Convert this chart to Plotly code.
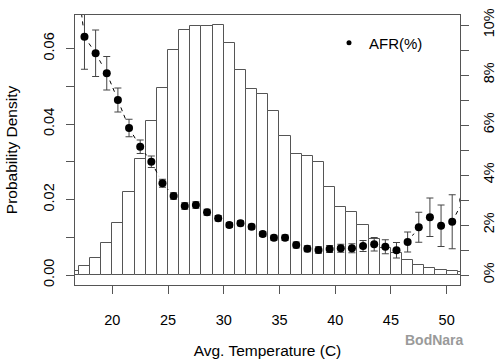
import math
import plotly.graph_objects as go

# ---- data ----
bin_left = list(range(16, 52))                      # histogram bins of width 1
density = [0.0011, 0.0024, 0.0044, 0.0085, 0.0137, 0.0221, 0.0307, 0.0408,
           0.0495, 0.0597, 0.0649, 0.0660, 0.0660, 0.0663, 0.0614, 0.0542,
           0.0493, 0.0480, 0.0435, 0.0368, 0.0320, 0.0315, 0.0299, 0.0232,
           0.0181, 0.0166, 0.0132, 0.0095, 0.0071, 0.0059, 0.0040, 0.0026,
           0.0019, 0.0014, 0.0011, 0.0007]
afr_x = [b + 0.5 for b in bin_left]
afr = [13.0, 9.53, 8.87, 8.07, 7.00, 5.88, 5.13, 4.53, 3.67, 3.16, 2.76, 2.80,
       2.51, 2.27, 2.00, 2.07, 1.93, 1.64, 1.49, 1.49, 1.20, 1.05, 1.00, 1.04,
       1.07, 1.07, 1.16, 1.23, 1.13, 0.99, 1.32, 1.91, 2.31, 1.97, 2.13, 3.0]
afr_err = [0, 1.30, 0.93, 0.67, 0.48, 0.35, 0.27, 0.23, 0.16, 0.13, 0.13, 0.13,
           0.12, 0.11, 0.10, 0.10, 0.10, 0.10, 0.10, 0.11, 0.12, 0.12, 0.13, 0.14,
           0.16, 0.18, 0.22, 0.27, 0.28, 0.31, 0.40, 0.60, 0.77, 0.83, 1.08, 0]

x_ticks = [20, 25, 30, 35, 40, 45, 50]
y_ticks = [0.00, 0.01, 0.02, 0.03, 0.04, 0.05, 0.06]
y_ticktext = ["0.00", "", "0.02", "", "0.04", "", "0.06"]
y2_ticks = list(range(0, 11))
y2_ticktext = ["0%", "", "2%", "", "4%", "", "6%", "", "8%", "", "10%"]

# ---- layout geometry ----
W, H = 500, 364
ML, MR, MT, MB = 75, 40, 15, 79
PW, PH = W - ML - MR, H - MT - MB
x_range = [16.65, 51.2]
y_range = [-0.00265, 0.0689]
y2_range = [-0.4, 10.4]

LINE = "#555555"
FONT = "Liberation Sans, Arial, sans-serif"

# R-style type="b" line: segments between points with a gap around each point
sx = PW / (x_range[1] - x_range[0])
sy = PH / (y2_range[1] - y2_range[0])
gap = 8.0
seg_x, seg_y = [], []
for i in range(len(afr_x) - 1):
    x1, y1, x2, y2 = afr_x[i], afr[i], afr_x[i + 1], afr[i + 1]
    d = math.hypot((x2 - x1) * sx, (y2 - y1) * sy)
    if d > 2 * gap:
        f = gap / d
        seg_x += [x1 + f * (x2 - x1), x2 - f * (x2 - x1), None]
        seg_y += [y1 + f * (y2 - y1), y2 - f * (y2 - y1), None]

fig = go.Figure()
fig.add_trace(go.Bar(
    x=[b + 0.5 for b in bin_left], y=density, width=1,
    marker=dict(color="white", line=dict(color=LINE, width=1)),
    showlegend=False, hoverinfo="skip", yaxis="y"))

fig.add_trace(go.Scatter(
    x=seg_x, y=seg_y, mode="lines", yaxis="y2",
    line=dict(color="black", width=1, dash="4px,4px"),
    showlegend=False, hoverinfo="skip"))

fig.add_trace(go.Scatter(
    x=afr_x, y=afr, mode="markers", yaxis="y2",
    marker=dict(color="black", size=8),
    error_y=dict(type="data", array=afr_err, visible=True,
                 color="#444444", thickness=1, width=3.5),
    showlegend=False))

fig.add_trace(go.Scatter(
    x=[None], y=[None], mode="markers", yaxis="y2", name="AFR(%)",
    marker=dict(color="black", size=5)))

fig.update_layout(
    width=W, height=H,
    margin=dict(l=ML, r=MR, t=MT, b=MB, pad=0, autoexpand=False),
    paper_bgcolor="white", plot_bgcolor="white",
    font=dict(family=FONT, color="black", size=14.5),
    bargap=0,
    xaxis=dict(range=x_range, tickvals=x_ticks, ticks="outside", ticklen=8,
               tickcolor=LINE, showline=True, linecolor=LINE, linewidth=1,
               mirror=True, showgrid=False, zeroline=False, automargin=False,
               ticklabelstandoff=14,
               title=dict(text="Avg. Temperature (C)", font=dict(size=15.5),
                          standoff=17)),
    yaxis=dict(range=y_range, tickvals=y_ticks, ticktext=y_ticktext,
               ticks="outside", ticklen=8, tickcolor=LINE, tickangle=-90,
               showline=True, linecolor=LINE, linewidth=1, mirror=True,
               showgrid=False, zeroline=False, ticklabelstandoff=6,
               automargin=False,
               title=dict(text="Probability Density", font=dict(size=15.5),
                          standoff=19)),
    yaxis2=dict(range=y2_range, tickvals=y2_ticks, ticktext=y2_ticktext,
                overlaying="y", side="right", ticks="outside", ticklen=8,
                tickcolor=LINE, tickangle=-90, showline=False,
                showgrid=False, zeroline=False, ticklabelstandoff=8,
                automargin=False),
    legend=dict(x=(329 - ML) / PW, y=(MT + PH - 43) / PH, xanchor="left",
                yanchor="middle", bgcolor="rgba(0,0,0,0)", borderwidth=0,
                font=dict(size=15)),
    annotations=[dict(text="<b>BodNara</b>", xref="paper", yref="paper",
                      x=(466 - ML) / PW, y=-(350 - MT - PH) / PH,
                      showarrow=False, font=dict(size=14, color="#9a9a9a"))],
)

fig.write_html("out.html",
               config={"displayModeBar": False},
               post_script="document.body.style.margin='0';"
                           "document.body.style.overflow='hidden';")
